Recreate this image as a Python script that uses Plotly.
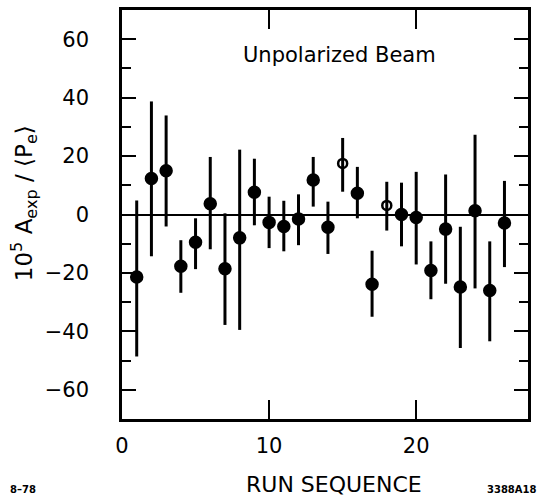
import plotly.graph_objects as go

# ---- data ----
run = list(range(1, 27))
asym = [-21.4, 12.3, 15.0, -17.7, -9.5, 3.7, -18.6, -8.0, 7.6, -2.7, -4.1, -1.5, 11.8,
        -4.4, 17.5, 7.3, -23.9, 3.1, 0.0, -1.0, -19.2, -5.0, -24.8, 1.3, -26.0, -2.9]
err_top = [4.8, 38.7, 33.9, -8.8, -1.3, 19.7, 0.4, 22.2, 19.1, 6.1, 4.7, 6.9, 19.7,
           4.4, 26.2, 16.3, -12.4, 11.2, 10.9, 14.6, -9.2, 13.7, -4.2, 27.3, -9.2, 11.5]
err_bot = [-48.6, -14.3, -4.1, -26.8, -18.7, -11.9, -37.8, -39.5, -3.7, -11.5, -12.6, -10.5, 2.7,
           -13.5, 7.8, -1.3, -35.0, -5.5, -10.9, -17.1, -29.0, -23.7, -45.7, -25.3, -43.4, -18.0]
open_runs = [15, 18]

x_ticks = [0, 10, 20]
y_ticks = [-60, -40, -20, 0, 20, 40, 60]

plus = [t - v for t, v in zip(err_top, asym)]
minus = [v - b for v, b in zip(asym, err_bot)]
symbols = ["circle-open" if r in open_runs else "circle" for r in run]
sizes = [9 if r in open_runs else 11 for r in run]

ink = "#000000"
font = "DejaVu Sans"

fig = go.Figure()
fig.add_trace(go.Scatter(
    x=run, y=asym, mode="markers",
    marker=dict(symbol=symbols, size=sizes, color=ink, opacity=1,
                line=dict(color=ink, width=2.5)),
    error_y=dict(type="data", symmetric=False, array=plus, arrayminus=minus,
                 color=ink, thickness=3, width=0),
    showlegend=False,
))

axis_common = dict(showline=True, linecolor=ink, linewidth=2.5, mirror="ticks",
                   ticks="inside", tickcolor=ink, tickwidth=2, showgrid=False,
                   tickfont=dict(family=font, size=21, color=ink))

fig.update_xaxes(range=[0, 27.6], tickvals=x_ticks, ticklen=19, zeroline=False,
                 ticklabelstandoff=6, **axis_common)
fig.update_yaxes(range=[-70, 70], tickvals=y_ticks, ticklen=14,
                 minor=dict(tickvals=[-70, -50, -30, -10, 10, 30, 50, 70], ticklen=9,
                            ticks="inside", tickcolor=ink, tickwidth=2),
                 zeroline=True, zerolinecolor=ink, zerolinewidth=2,
                 ticklabelstandoff=26, **axis_common)

ann = [
    dict(text="Unpolarized Beam", x=0.535, y=0.891, size=21),
    dict(text="RUN SEQUENCE", x=0.523, y=-0.160, size=22),
    dict(text="<b>8\u201378</b>", x=-0.244, y=-0.172, size=10),
    dict(text="<b>3388A18</b>", x=0.961, y=-0.172, size=10),
]
for a in ann:
    fig.add_annotation(text=a["text"], x=a["x"], y=a["y"], xref="paper", yref="paper",
                       showarrow=False, xanchor="center", yanchor="middle",
                       font=dict(family=font, size=a["size"], color=ink))

fig.add_annotation(text="10<sup>5</sup> A<sub>exp</sub> / \u27e8P<sub>e</sub>\u27e9",
                   x=-0.242, y=0.527, xref="paper", yref="paper", textangle=-90,
                   showarrow=False, xanchor="center", yanchor="middle",
                   font=dict(family=font, size=23, color=ink))

fig.update_layout(width=538, height=497, margin=dict(l=122, r=7, t=7, b=78),
                  paper_bgcolor="white", plot_bgcolor="white")

fig.write_html("out.html")
